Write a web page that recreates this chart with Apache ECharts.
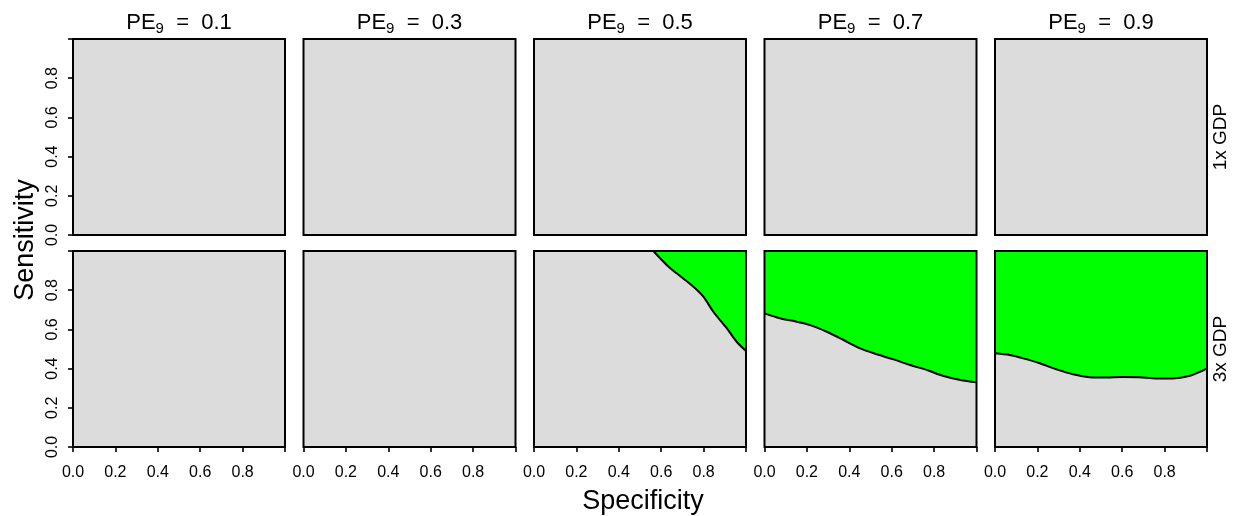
<!DOCTYPE html>
<html>
<head>
<meta charset="utf-8">
<script src="https://cdn.jsdelivr.net/npm/echarts@6/dist/echarts.min.js"></script>
<style>
  html, body { margin: 0; padding: 0; background: #ffffff; }
  #chart { width: 1233px; height: 516px; }
</style>
</head>
<body>
<div id="chart"></div>
<script>
// Facet columns (PE_9 level) and rows (cost multiple)
const peLevels = ['0.1', '0.3', '0.5', '0.7', '0.9'];
const gdpRows = ['1x GDP', '3x GDP'];

// Shared tick labels on both axes (the 1.0 tick is left unlabelled)
const tickLabels = ['0.0', '0.2', '0.4', '0.6', '0.8', ''];

// Boundary of the favourable region, 3x GDP, PE_9 = 0.5
const pe05Spec = [0.563, 0.626, 0.673, 0.752, 0.799, 0.846, 0.909, 0.956, 1.0];
const pe05Sens = [1.0, 0.929, 0.886, 0.818, 0.767, 0.690, 0.606, 0.537, 0.49];

// Boundary of the favourable region, 3x GDP, PE_9 = 0.7
const pe07Spec = [0, 0.073, 0.152, 0.215, 0.294, 0.373, 0.451, 0.530, 0.609, 0.687, 0.766, 0.845, 0.924, 1.0];
const pe07Sens = [0.682, 0.657, 0.639, 0.622, 0.588, 0.546, 0.503, 0.473, 0.447, 0.418, 0.393, 0.362, 0.342, 0.33];

// Boundary of the favourable region, 3x GDP, PE_9 = 0.9
const pe09Spec = [0, 0.070, 0.133, 0.211, 0.290, 0.368, 0.446, 0.524, 0.602, 0.681, 0.759, 0.837, 0.915, 0.986, 1.0];
const pe09Sens = [0.478, 0.469, 0.452, 0.427, 0.396, 0.371, 0.356, 0.354, 0.357, 0.356, 0.350, 0.350, 0.362, 0.393, 0.40];

// Which panels carry a shaded region: [row, column, specificity, sensitivity]
const regions = [
  [1, 2, pe05Spec, pe05Sens],
  [1, 3, pe07Spec, pe07Sens],
  [1, 4, pe09Spec, pe09Sens]
];

// Panel layout (pixels)
const PANEL_LEFT = 73;
const PANEL_STEP = 230.5;
const PANEL_W = 212;
const PANEL_H = 196;
const ROW_TOP = [39, 251];

const FONT = '"Liberation Sans", Arial, Helvetica, sans-serif';
const FILL_BG = '#dcdcdc';
const FILL_OK = '#00ff00';

const grids = [], xAxes = [], yAxes = [], series = [], graphics = [];

const labelText = v => tickLabels[Math.round(v / 0.2)] ?? '';

for (let r = 0; r < gdpRows.length; r++) {
  for (let c = 0; c < peLevels.length; c++) {
    const idx = r * peLevels.length + c;
    const left = PANEL_LEFT + c * PANEL_STEP;
    const top = ROW_TOP[r];
    grids.push({
      left: left, top: top, width: PANEL_W, height: PANEL_H,
      show: true, backgroundColor: FILL_BG, borderWidth: 0
    });
    const bottomRow = r === gdpRows.length - 1;
    const firstCol = c === 0;
    xAxes.push({
      type: 'value', gridIndex: idx, min: 0, max: 1, interval: 0.2,
      axisLine: { show: false },
      axisTick: { show: bottomRow, length: 5, lineStyle: { color: '#000', width: 1.6 } },
      axisLabel: {
        show: bottomRow, margin: 18, color: '#000', fontSize: 16, fontFamily: FONT,
        formatter: labelText
      },
      splitLine: { show: false }
    });
    yAxes.push({
      type: 'value', gridIndex: idx, min: 0, max: 1, interval: 0.2,
      axisLine: { show: false },
      axisTick: { show: firstCol, length: 5, lineStyle: { color: '#000', width: 1.6 } },
      axisLabel: {
        show: firstCol, margin: 12, rotate: 90, color: '#000', fontSize: 16, fontFamily: FONT,
        formatter: labelText
      },
      splitLine: { show: false }
    });
    // panel frame
    graphics.push({
      type: 'rect', z: 100, silent: true,
      shape: { x: left, y: top, width: PANEL_W, height: PANEL_H },
      style: { fill: 'none', stroke: '#000', lineWidth: 2 }
    });
  }
}

regions.forEach(([r, c, spec, sens]) => {
  const idx = r * peLevels.length + c;
  series.push({
    type: 'line', xAxisIndex: idx, yAxisIndex: idx,
    data: spec.map((s, i) => [s, sens[i]]),
    smooth: 0.3, symbol: 'none', clip: true,
    lineStyle: { color: '#000', width: 2 },
    areaStyle: { color: FILL_OK, opacity: 1, origin: 'end' },
    z: 2
  });
});

// Column strip titles: PE_9 = value
peLevels.forEach((pe, c) => {
  graphics.push({
    type: 'text', z: 100, silent: true,
    x: PANEL_LEFT + c * PANEL_STEP + PANEL_W / 2, y: 24,
    style: {
      text: '{a|PE}{b|9}{a|  =  ' + pe + '}',
      align: 'center', verticalAlign: 'middle',
      textAlign: 'center', textVerticalAlign: 'middle',
      rich: {
        a: { fontSize: 22, fontFamily: FONT, fill: '#000', color: '#000', lineHeight: 24, verticalAlign: 'top', padding: [0, 0, 6, 0] },
        b: { fontSize: 15, fontFamily: FONT, fill: '#000', color: '#000', lineHeight: 17, verticalAlign: 'bottom' }
      }
    }
  });
});

// Row strip labels
gdpRows.forEach((lab, r) => {
  graphics.push({
    type: 'text', z: 100, silent: true,
    x: 1221, y: ROW_TOP[r] + PANEL_H / 2, rotation: Math.PI / 2,
    style: {
      text: lab, fontSize: 19, fontFamily: FONT, fill: '#000',
      align: 'center', verticalAlign: 'middle',
      textAlign: 'center', textVerticalAlign: 'middle'
    }
  });
});

// Axis titles
graphics.push({
  type: 'text', z: 100, silent: true,
  x: 643, y: 502,
  style: {
    text: 'Specificity', fontSize: 27, fontFamily: FONT, fill: '#000',
    align: 'center', verticalAlign: 'middle',
    textAlign: 'center', textVerticalAlign: 'middle'
  }
});
graphics.push({
  type: 'text', z: 100, silent: true,
  x: 26, y: 240, rotation: Math.PI / 2,
  style: {
    text: 'Sensitivity', fontSize: 27, fontFamily: FONT, fill: '#000',
    align: 'center', verticalAlign: 'middle',
    textAlign: 'center', textVerticalAlign: 'middle'
  }
});

const chart = echarts.init(document.getElementById('chart'), null, { renderer: 'canvas' });
chart.setOption({
  animation: false,
  backgroundColor: '#ffffff',
  grid: grids,
  xAxis: xAxes,
  yAxis: yAxes,
  series: series,
  graphic: { elements: graphics }
});
</script>
</body>
</html>
